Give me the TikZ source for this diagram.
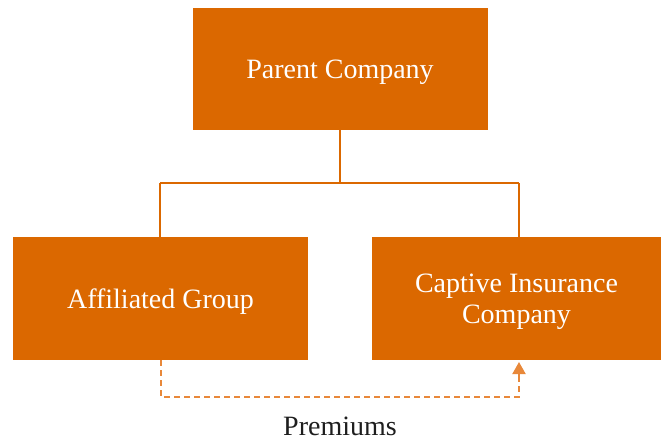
\documentclass[tikz,border=0pt]{standalone}
\usepackage{fontspec}
\setmainfont{Liberation Serif}
\usetikzlibrary{arrows.meta}
\definecolor{boxorange}{HTML}{DB6800}
\definecolor{dashorange}{HTML}{E8883A}
\definecolor{txtdark}{HTML}{1E1E1E}
\begin{document}
\begin{tikzpicture}[x=1pt,y=-1pt,
  orgbox/.style={fill=boxorange, draw=none, inner sep=0pt, text=white,
    align=center, text depth=0pt, font=\fontsize{28}{31}\selectfont},
  conn/.style={draw=boxorange, line width=1.6pt},
  dashconn/.style={draw=dashorange, line width=2pt, dash pattern=on 6pt off 4pt},
  tipline/.style={draw=dashorange, fill=dashorange, line width=2pt, -{Triangle[length=12pt,width=13pt]}}]
\useasboundingbox (0,0) rectangle (661,440);
\node[orgbox, minimum width=295pt, minimum height=122pt] (parent) at (340,69) {Parent Company};
\node[orgbox, minimum width=295pt, minimum height=123pt] (aff) at (160.5,298.5) {Affiliated Group};
\node[orgbox, minimum width=289pt, minimum height=123pt] (cap) at (516.5,298.5) {Captive Insurance\\Company};
\node[font=\fontsize{28}{32}\selectfont, text=txtdark, inner sep=0pt, anchor=base] (prem) at (340,435) {Premiums};
\coordinate (j) at (340,183);
\coordinate (jl) at (160,183);
\coordinate (jr) at (519,183);
\draw[conn] (parent.south) -- (j);
\draw[conn] (jl) -- (jr);
\draw[conn] (jl) -- (jl |- aff.north);
\draw[conn] (jr) -- (jr |- cap.north);
\coordinate (dl) at (161,397);
\coordinate (dr) at (519,397);
\coordinate (tipstart) at (519,380);
\coordinate (tipend) at (519,362);
\draw[dashconn] (dl |- aff.south) -- (dl) -- (dr) -- (tipstart);
\draw[tipline] (tipstart) -- (tipend);
\end{tikzpicture}
\end{document}
